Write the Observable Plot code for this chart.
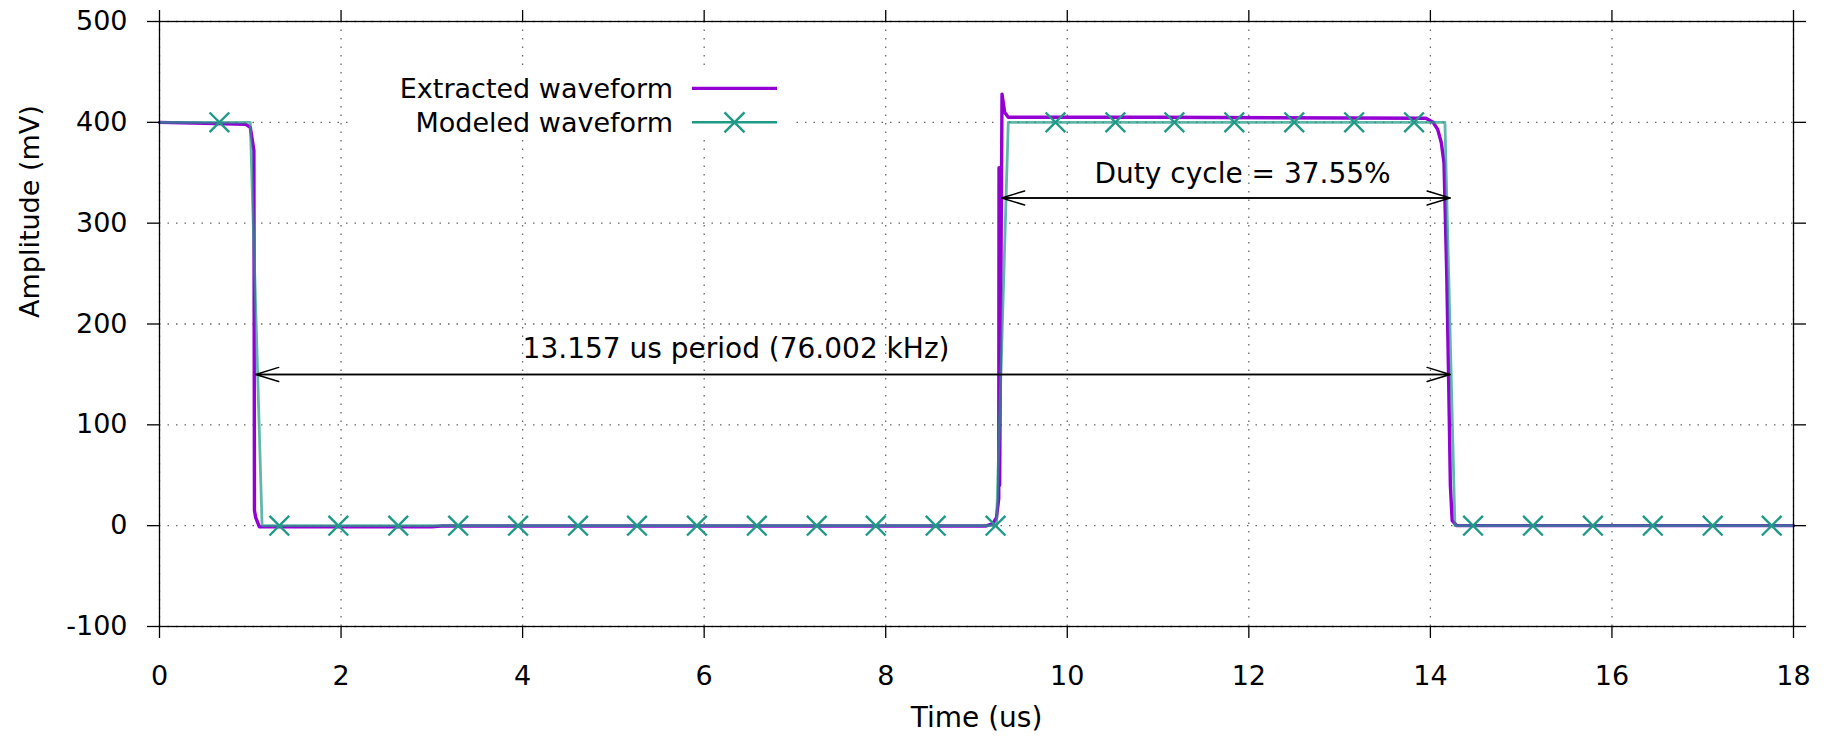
<!DOCTYPE html>
<html><head><meta charset="utf-8">
<script src="https://cdn.jsdelivr.net/npm/d3@7"></script>
<script src="https://cdn.jsdelivr.net/npm/@observablehq/plot@0.6"></script>
<style>html,body{margin:0;padding:0;background:#fff;} #chart svg{display:block}</style>
</head><body><div id="chart"></div>
<script>
// ---- data ----
const seriesNames = ["Extracted waveform", "Modeled waveform"];
const extractedT = [0, 0.5, 0.95, 1.0, 1.04, 1.046, 1.06, 1.1, 2.0, 3.0, 3.1, 6.0, 9.1, 9.18, 9.22, 9.245, 9.248, 9.255, 9.281, 9.31, 9.35, 11.0, 13.95, 14.03, 14.08, 14.12, 14.15, 14.18, 14.2, 14.22, 14.24, 14.29, 16.0, 18];
const extractedV = [400, 399, 398, 395, 372, 15, 8, -1.2, -1.2, -1.2, -0.4, -0.4, -0.4, 2, 8, 27, 355, 40, 428, 410, 405, 405, 404, 400, 393, 380, 360, 250, 150, 40, 5, 0, 0, 0];
const modeledT = [0, 1.0, 1.13, 9.22, 9.35, 14.16, 14.27, 18];
const modeledV = [400, 400, 0, 0, 400, 400, 0, 0];
const markerT = [0.66, 1.32, 1.97, 2.63, 3.29, 3.95, 4.61, 5.26, 5.92, 6.58, 7.24, 7.89, 8.55, 9.21, 9.87, 10.53, 11.18, 11.84, 12.50, 13.16, 13.82, 14.47, 15.13, 15.79, 16.45, 17.11, 17.76];
const markerV = [400, 0, 0, 0, 0, 0, 0, 0, 0, 0, 0, 0, 0, 0, 400, 400, 400, 400, 400, 400, 400, 0, 0, 0, 0, 0, 0];
const xTicks = [0, 2, 4, 6, 8, 10, 12, 14, 16, 18];
const yTicks = [-100, 0, 100, 200, 300, 400, 500];
const arrowStart = [1.06, 9.277];
const arrowEnd = [14.217, 14.217];
const arrowY = [150, 325];
const labelText = ["13.157 us period (76.002 kHz)", "Duty cycle = 37.55%"];
const labelX = [4.0, 10.3];
const labelY = [175, 349];
const xLabel = "Time (us)";
const yLabel = "Amplitude (mV)";

// ---- tables ----
const extracted = extractedT.map((t, i) => ({t, v: extractedV[i]}));
const modeled = modeledT.map((t, i) => ({t, v: modeledV[i]}));
const markers = markerT.map((t, i) => ({t, v: markerV[i]}));
const arrows = arrowY.map((y, i) => ({x1: arrowStart[i], x2: arrowEnd[i], y}));
const labels = labelText.map((text, i) => ({text, x: labelX[i], y: labelY[i]}));

const PURPLE = "#9400d3";
const TEAL = "#1e9a86";
const FONT = "DejaVu Sans";
const fmt = d => String(d);

const plot = Plot.plot({
  width: 1830,
  height: 744,
  marginLeft: 159,
  marginRight: 37,
  marginTop: 21,
  marginBottom: 118,
  style: {fontFamily: FONT, fontSize: "27px", color: "#000", background: "#fff"},
  x: {domain: [0, 18]},
  y: {domain: [-100, 500]},
  marks: [
    Plot.gridX(xTicks, {stroke: "#666", strokeOpacity: 1, strokeWidth: 1.3, strokeDasharray: "1.5,7"}),
    Plot.gridY(yTicks, {stroke: "#666", strokeOpacity: 1, strokeWidth: 1.3, strokeDasharray: "1.5,7"}),
    Plot.line(extracted, {x: "t", y: "v", stroke: PURPLE, strokeWidth: 3.4}),
    Plot.line(modeled, {x: "t", y: "v", stroke: TEAL, strokeWidth: 2.8, strokeOpacity: 0.7}),
    Plot.dot(markers, {x: "t", y: "v", symbol: "times", r: 9, stroke: TEAL, strokeWidth: 2.4}),
    Plot.arrow(arrows, {x1: "x1", y1: "y", x2: "x2", y2: "y", stroke: "#000", strokeWidth: 1.5, headLength: 24, headAngle: 34}),
    Plot.arrow(arrows, {x1: "x2", y1: "y", x2: "x1", y2: "y", stroke: "#000", strokeWidth: 1.5, headLength: 24, headAngle: 34}),
    Plot.text(labels, {x: "x", y: "y", text: "text", textAnchor: "start", fontSize: 28, fill: "#000"}),
    Plot.frame({stroke: "#000", strokeWidth: 1.3}),
    Plot.axisX(xTicks, {anchor: "bottom", tickSize: 12, tickPadding: 27, tickFormat: fmt, label: null, strokeWidth: 1.3}),
    Plot.axisX(xTicks, {anchor: "top", tickSize: 12, tickFormat: () => "", label: null, strokeWidth: 1.3}),
    Plot.axisY(yTicks, {anchor: "left", tickSize: 12, tickPadding: 20, tickFormat: fmt, label: null, strokeWidth: 1.3}),
    Plot.axisY(yTicks, {anchor: "right", tickSize: 12, tickFormat: () => "", label: null, strokeWidth: 1.3}),
    Plot.text([xLabel], {frameAnchor: "bottom", dy: 100, fontSize: 28, fill: "#000"}),
    Plot.text([yLabel], {frameAnchor: "left", dx: -129, dy: -6, rotate: -90, fontSize: 27, fill: "#000"})
  ]
});

// ---- legend (inside the plot, opaque box as in the reference) ----
const svg = d3.select(plot);
const lg = svg.append("g").attr("font-family", FONT).attr("font-size", 27);
lg.append("rect").attr("x", 350).attr("y", 66).attr("width", 440).attr("height", 74).attr("fill", "#fff");
const rows = [{y: 88.3, color: PURPLE, marker: false}, {y: 122.3, color: TEAL, marker: true}];
rows.forEach((r, i) => {
  lg.append("text").attr("x", 673).attr("y", r.y).attr("dy", "0.36em").attr("text-anchor", "end").attr("fill", "#000").text(seriesNames[i]);
  lg.append("line").attr("x1", 692).attr("x2", 777).attr("y1", r.y).attr("y2", r.y)
    .attr("stroke", r.color).attr("stroke-width", r.marker ? 2.6 : 3.2);
  if (r.marker) {
    const s = 10;
    lg.append("path").attr("d", `M${734.5 - s},${r.y - s}L${734.5 + s},${r.y + s}M${734.5 - s},${r.y + s}L${734.5 + s},${r.y - s}`)
      .attr("stroke", r.color).attr("stroke-width", 2.4).attr("fill", "none");
  }
});

document.getElementById("chart").appendChild(plot);
</script>
</body></html>
